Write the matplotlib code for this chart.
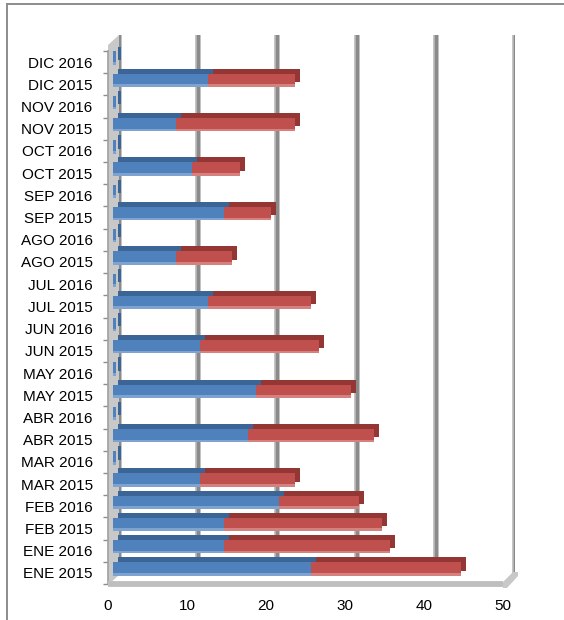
import matplotlib
matplotlib.use("Agg")
import matplotlib.pyplot as plt
import matplotlib.transforms as mtransforms
from matplotlib.patches import Polygon
from matplotlib.lines import Line2D
import numpy as np

plt.rcParams['font.family'] = ['Liberation Sans', 'DejaVu Sans']

categories = ['ENE 2015', 'ENE 2016', 'FEB 2015', 'FEB 2016', 'MAR 2015', 'MAR 2016',
              'ABR 2015', 'ABR 2016', 'MAY 2015', 'MAY 2016', 'JUN 2015', 'JUN 2016',
              'JUL 2015', 'JUL 2016', 'AGO 2015', 'AGO 2016', 'SEP 2015', 'SEP 2016',
              'OCT 2015', 'OCT 2016', 'NOV 2015', 'NOV 2016', 'DIC 2015', 'DIC 2016']
blue_vals = [25, 14, 14, 21, 11, 0.4, 17, 0.4, 18, 0.4, 11, 0.4,
             12, 0.4, 8, 0.4, 14, 0.4, 10, 0.4, 8, 0.4, 12, 0.4]
red_vals = [19, 21, 20, 10, 12, 0, 16, 0, 12, 0, 15, 0,
            13, 0, 7, 0, 6, 0, 6, 0, 15, 0, 11, 0]
x_ticks = [0, 10, 20, 30, 40, 50]

W, H = 564, 620
fig = plt.figure(figsize=(W / 100, H / 100), dpi=100)
fig.patch.set_facecolor('white')

def fx(x):
    return x / W

def fy(y):
    return 1 - y / H

# back wall gridlines
ax_back = fig.add_axes([fx(119), 45 / H, 396 / W, 540 / H], zorder=0)
ax_back.set_xlim(0, 50)
ax_back.set_ylim(0, 1)
ax_back.axis('off')
for t in x_ticks:
    ax_back.axvline(t, color='#B5B5B5', lw=4.0, zorder=1)
    ax_back.axvline(t, color='#8A8A8A', lw=2.2, zorder=2)

# left wall and floor corner decoration (figure coords)
left_wall = Polygon([(fx(108), fy(45)), (fx(119), fy(35)), (fx(119), fy(575)), (fx(108), fy(585))],
                    closed=True, transform=fig.transFigure, facecolor='#C8C8C8',
                    edgecolor='none', zorder=0.5)
fig.patches.append(left_wall)
corner = Polygon([(fx(503), fy(582)), (fx(513), fy(572)), (fx(518), fy(572)), (fx(518), fy(576)),
                  (fx(507), fy(588)), (fx(503), fy(588))],
                 closed=True, transform=fig.transFigure, facecolor='#C8C8C8', edgecolor='none', zorder=0.5)
fig.patches.append(corner)

# front axes: labels, ticks, floor
ax = fig.add_axes([fx(108), 36 / H, 395 / W, 533 / H], zorder=1)
ax.patch.set_alpha(0)
ax.set_xlim(0, 50)
ax.set_ylim(-0.5, len(categories) - 0.5)
ax.set_yticks(range(len(categories)))
ax.set_yticklabels(categories, fontsize=11)
ax.set_yticks(np.arange(-0.5, len(categories), 1.0), minor=True)
ax.tick_params(axis='y', which='major', length=0, pad=11)
ax.tick_params(axis='y', which='minor', length=3.5, width=1, color='#8C8C8C', direction='out')
ax.set_xticks(x_ticks)
ax.set_xticklabels([str(t) for t in x_ticks], fontsize=11)
ax.tick_params(axis='x', which='both', length=0, pad=11)
for s in ['top', 'right']:
    ax.spines[s].set_visible(False)
ax.spines['left'].set_color('#A0A0A0')
ax.spines['left'].set_linewidth(1.2)
ax.spines['bottom'].set_color('#BEBEBE')
ax.spines['bottom'].set_linewidth(4.2)
ax.spines['bottom'].set_capstyle('butt')

# bars axes (mid depth)
axb = fig.add_axes([fx(113), 40 / H, 396 / W, 533 / H], zorder=2)
axb.patch.set_alpha(0)
axb.set_xlim(0, 50)
axb.set_ylim(-0.5, len(categories) - 0.5)
axb.axis('off')

y = np.arange(len(categories))
blue = np.array(blue_vals, dtype=float)
red = np.array(red_vals, dtype=float)
h = 0.6
back_tr = mtransforms.offset_copy(axb.transData, fig=fig, x=5, y=5, units='dots')

# top faces / end caps (shifted copies)
axb.barh(y, blue, height=h, color='#3B6596', edgecolor='none', transform=back_tr, zorder=1)
axb.barh(y, red, left=blue, height=h, color='#943634', edgecolor='none', transform=back_tr, zorder=1)
# front faces
axb.barh(y, blue, height=h, color='#4F81BD', edgecolor='none', zorder=2)
axb.barh(y, red, left=blue, height=h, color='#C0504D', edgecolor='none', zorder=2)
# lighter bottom strip
axb.barh(y - h / 2 + 0.06, blue, height=0.12, color='#9EBBE0', alpha=0.6, edgecolor='none', zorder=3)
axb.barh(y - h / 2 + 0.06, red, left=blue, height=0.12, color='#E4A3A1', alpha=0.6, edgecolor='none', zorder=3)

# outer border
fig.add_artist(Line2D([fx(7), fx(7)], [fy(4), 0], color='#8C8C8C', lw=1.4, transform=fig.transFigure))
fig.add_artist(Line2D([fx(7), 1], [fy(4), fy(4)], color='#8C8C8C', lw=1.4, transform=fig.transFigure))

fig.savefig('out.png', dpi=100, facecolor='white')
